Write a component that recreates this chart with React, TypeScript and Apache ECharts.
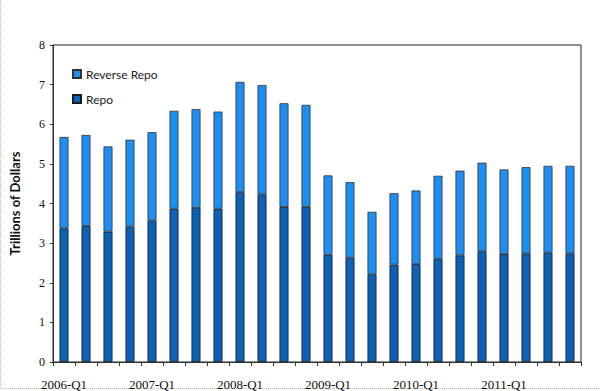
import React, { useEffect, useRef } from "react";
import * as echarts from "echarts";

const categories: string[] = [
  "2006-Q1", "2006-Q2", "2006-Q3", "2006-Q4",
  "2007-Q1", "2007-Q2", "2007-Q3", "2007-Q4",
  "2008-Q1", "2008-Q2", "2008-Q3", "2008-Q4",
  "2009-Q1", "2009-Q2", "2009-Q3", "2009-Q4",
  "2010-Q1", "2010-Q2", "2010-Q3", "2010-Q4",
  "2011-Q1", "2011-Q2", "2011-Q3", "2011-Q4",
];

const repo: number[] = [
  3.37, 3.43, 3.29, 3.42, 3.57, 3.87, 3.89, 3.87,
  4.29, 4.23, 3.91, 3.91, 2.71, 2.63, 2.21, 2.46,
  2.47, 2.61, 2.69, 2.79, 2.72, 2.74, 2.76, 2.74,
];

const reverseRepo: number[] = [
  2.31, 2.30, 2.15, 2.19, 2.23, 2.47, 2.49, 2.45,
  2.78, 2.76, 2.62, 2.58, 2.00, 1.91, 1.58, 1.80,
  1.86, 2.09, 2.14, 2.24, 2.14, 2.18, 2.19, 2.21,
];

const yTicks = { min: 0, max: 8, interval: 1 };

export default function App() {
  const ref = useRef<HTMLDivElement>(null);
  useEffect(() => {
    if (!ref.current) return;
    const chart = echarts.init(ref.current, undefined, { renderer: "svg" });
    chart.setOption({
      animation: false,
      backgroundColor: "#ffffff",
      grid: {
        left: 49,
        right: 19,
        top: 45,
        bottom: 25,
        show: true,
        borderColor: "#222",
        borderWidth: 1,
        backgroundColor: "transparent",
      },
      legend: {
        orient: "vertical",
        left: 67,
        top: 63,
        icon: "rect",
        itemWidth: 8,
        itemHeight: 8,
        itemGap: 13,
        data: ["Reverse Repo", "Repo"],
        textStyle: { fontFamily: "Lato", fontSize: 12, color: "#222" },
      },
      xAxis: {
        type: "category",
        data: categories,
        boundaryGap: true,
        axisLine: { lineStyle: { color: "#333", width: 1 } },
        axisTick: { show: true, interval: 0, length: 4, lineStyle: { color: "#333" } },
        axisLabel: {
          interval: 3,
          margin: 16,
          fontFamily: "Liberation Serif",
          fontSize: 13,
          color: "#111",
          formatter: (v: string) => (v.endsWith("Q1") ? v : ""),
        },
        splitLine: { show: false },
      },
      yAxis: {
        type: "value",
        min: yTicks.min,
        max: yTicks.max,
        interval: yTicks.interval,
        name: "Trillions of Dollars",
        nameLocation: "middle",
        nameGap: 32,
        nameTextStyle: { fontFamily: "Lato", fontWeight: "bold", fontSize: 13, color: "#111" },
        axisLine: { show: true, lineStyle: { color: "#333", width: 1 } },
        axisTick: { show: true, length: 3, lineStyle: { color: "#333" } },
        axisLabel: { margin: 8, fontFamily: "Liberation Serif", fontSize: 12, color: "#111" },
        splitLine: { show: false },
      },
      series: [
        {
          name: "Repo",
          type: "bar",
          stack: "total",
          data: repo,
          barWidth: 9,
          itemStyle: { color: "#0b62b5", borderColor: "#1a1a1a", borderWidth: 0.8 },
        },
        {
          name: "Reverse Repo",
          type: "bar",
          stack: "total",
          data: reverseRepo,
          barWidth: 9,
          itemStyle: { color: "#1f8ef1", borderColor: "#333", borderWidth: 0.8 },
        },
      ],
      graphic: [
        { type: "line", shape: { x1: 0.5, y1: 0, x2: 0.5, y2: 389 }, style: { stroke: "#bbb", lineWidth: 1, lineDash: [1, 1] }, silent: true },
        { type: "line", shape: { x1: 0, y1: 388.5, x2: 600, y2: 388.5 }, style: { stroke: "#bbb", lineWidth: 1, lineDash: [1, 1] }, silent: true },
      ],
    });
    return () => chart.dispose();
  }, []);
  return (
    <div
      ref={ref}
      style={{ position: "fixed", left: 0, top: 0, width: 600, height: 391, background: "#fff" }}
    />
  );
}
